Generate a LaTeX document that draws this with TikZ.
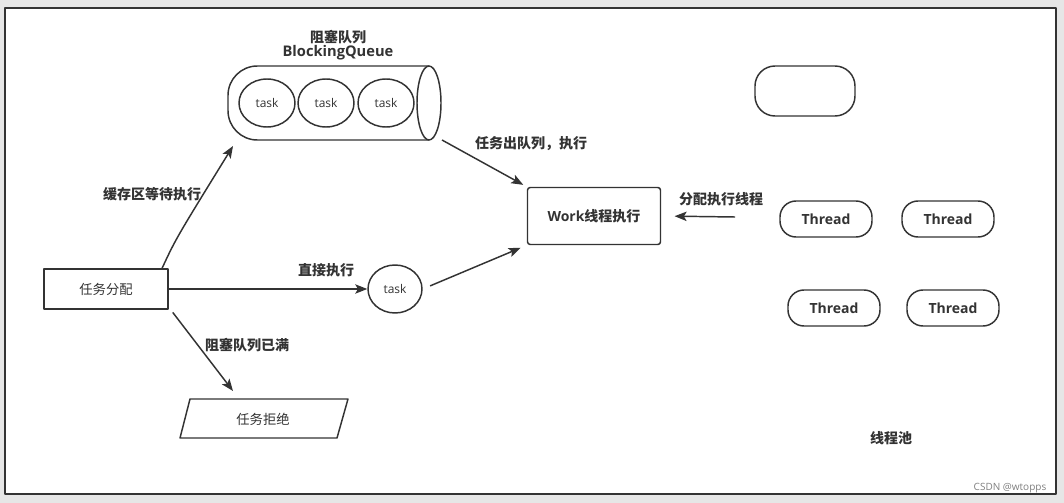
\documentclass[tikz,border=0pt]{standalone}
\usepackage{fontspec}
\setmainfont{Open Sans}
\newfontfamily\cjk{Noto Sans CJK SC}
\usetikzlibrary{arrows.meta,shapes.geometric}
\definecolor{ink}{RGB}{51,51,51}
\definecolor{pagegray}{RGB}{230,230,230}

\begin{document}
\begin{tikzpicture}[x=0.75pt,y=-0.75pt,line join=round,
  ln/.style={draw=ink,line width=1.1pt},
  arr/.style={ln,-{Stealth[length=9pt,width=7pt,inset=2pt]}},
  lbl/.style={font=\cjk\bfseries\fontsize{10.5}{12}\selectfont,text=ink},
  txt/.style={font=\cjk\fontsize{10}{12}\selectfont,text=ink},
  taskball/.style={ln,ellipse,minimum width=42pt,minimum height=36pt,inner sep=0pt,font=\fontsize{9}{11}\selectfont,text=ink},
  threadbox/.style={ln,rounded corners=12pt,minimum width=69pt,minimum height=27pt,inner sep=0pt,font=\bfseries\fontsize{10.5}{12}\selectfont,text=ink}]
\fill[pagegray] (0,0) rectangle (1064,503);
\useasboundingbox (0,0) rectangle (1064,503);
\draw[fill=white,draw=ink,line width=1.8pt] (5,8) rectangle (1056,494);
\node[lbl] (qtitle) at (338,37) {阻塞队列};
\node[lbl,font=\bfseries\fontsize{11}{12}\selectfont] (qname) at (338,53) {BlockingQueue};
\draw[ln,rounded corners=22pt] (429,66) -- (228,66) -- (228,140) -- (429,140);
\draw[ln,fill=white] (429,103) ellipse (12 and 37);
\node[taskball] (task1) at (267,103) {task};
\node[taskball] (task2) at (326,103) {task};
\node[taskball] (task3) at (386,103) {task};
\coordinate (qin) at (233,146);
\coordinate (qout) at (442,140);
\node[ln,txt,minimum width=93pt,minimum height=30pt,inner sep=0pt] (distribute) at (106,289) {任务分配};
\node[taskball,minimum width=40.5pt] (direct) at (395,289) {task};
\node[ln,rounded corners=2pt,minimum width=99.75pt,minimum height=42.75pt,inner sep=0pt,font=\bfseries\fontsize{10.5}{12}\selectfont,text=ink] (work) at (594,216) {Work{\cjk 线程执行}};
\node[txt] (reject) at (263,419) {任务拒绝};
\draw[ln] (190,399) -- (348,399) -- (337,438) -- (180,438) -- cycle;
\coordinate (rin) at (233,391);
\coordinate (feed) at (735,217);
\node[ln,rounded corners=15pt,minimum width=75pt,minimum height=37.5pt] (spare) at (805,91) {};
\node[threadbox] (thread1) at (826,219) {Thread};
\node[threadbox] (thread2) at (948,219) {Thread};
\node[threadbox] (thread3) at (834,308) {Thread};
\node[threadbox] (thread4) at (953,308) {Thread};
\draw[arr] ([xshift=-5pt]distribute.north east) .. controls +(14,-30) .. (qin);
\draw[arr] (distribute.east) -- (direct.west);
\draw[arr] ([xshift=3pt,yshift=-2pt]distribute.south east) -- (rin);
\draw[arr,shorten <=6pt,shorten >=5pt] (direct.east) -- (work.south west);
\draw[arr,shorten >=3pt] (qout) -- (work.north west);
\draw[arr,shorten >=10pt] (feed) -- (work.east);
\node[lbl] (lbuf) at (152,194) {缓存区等待执行};
\node[lbl] (ldirect) at (326,270) {直接执行};
\node[lbl] (lfull) at (247,345) {阻塞队列已满};
\node[lbl] (ldeq) at (531,144) {任务出队列，执行};
\node[lbl] (lassign) at (721,199) {分配执行线程};
\node[lbl] (lpool) at (891,438) {线程池};
\node[font=\fontsize{7.5}{9}\selectfont,text=gray] (mark) at (1010,488) {CSDN @wtopps};
\end{tikzpicture}
\end{document}
